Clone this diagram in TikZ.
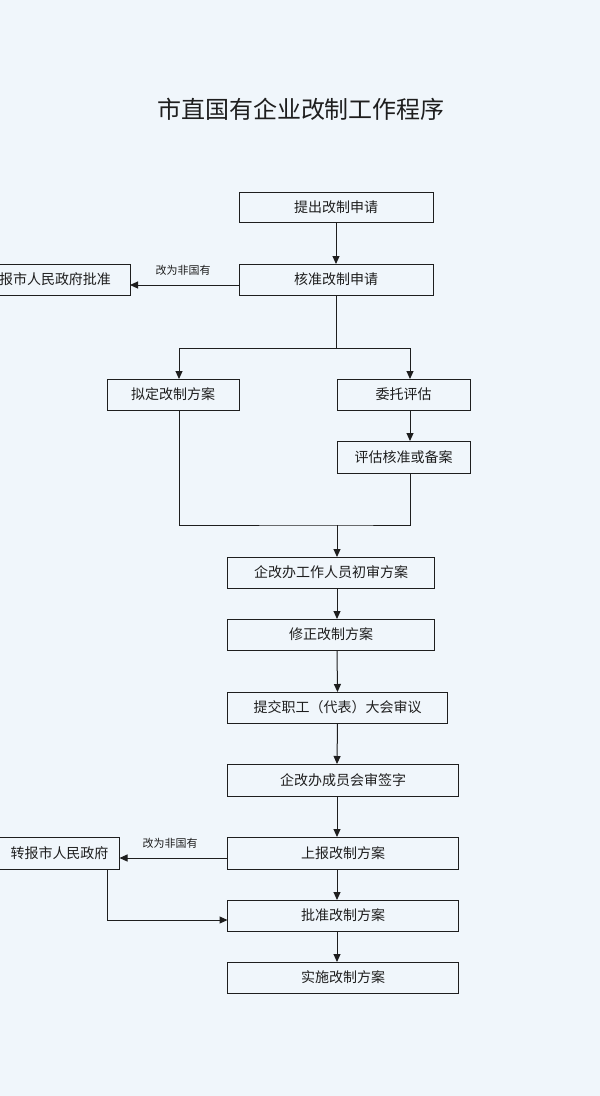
\documentclass[tikz,border=0pt]{standalone}
\usepackage{fontspec}
\newfontfamily\cjk{Noto Sans CJK SC}
\usetikzlibrary{arrows.meta,calc}
\definecolor{paper}{RGB}{240,246,251}
\definecolor{ink}{RGB}{30,30,30}
\tikzset{
  box/.style={draw=ink, line width=1pt, rectangle, inner sep=0pt, outer sep=0pt,
    font=\cjk\fontsize{14}{16}\selectfont, text=ink},
  lbl/.style={font=\cjk\fontsize{11}{13}\selectfont, text=ink, inner sep=0pt},
  conn/.style={draw=ink, line width=1pt},
  arr/.style={conn, -{Triangle[length=8pt,width=7pt]}}
}
\begin{document}
\begin{tikzpicture}[x=1pt,y=-1pt]
\fill[paper] (0,0) rectangle (600,1096);
\useasboundingbox (0,0) rectangle (600,1096);
\begin{scope}
\clip (0,0) rectangle (600,1096);
\node[font=\cjk\fontsize{24}{28}\selectfont, text=ink, inner sep=0pt] (title) at (301,109) {市直国有企业改制工作程序};

\node[box, minimum width=194pt, minimum height=30pt] (b1) at (336,207) {提出改制申请};
\node[box, minimum width=194pt, minimum height=31pt] (b2) at (336,279.5) {核准改制申请};
\node[box, minimum width=160pt, minimum height=31pt] (bl) at (50,279.5) {\hspace*{10pt}报市人民政府批准};
\node[lbl] (l1) at (183,270) {改为非国有};

\node[box, minimum width=132pt, minimum height=31pt] (p1) at (173,394.5) {拟定改制方案};
\node[box, minimum width=133pt, minimum height=31pt] (p2) at (403.5,394.5) {委托评估};
\node[box, minimum width=133pt, minimum height=32pt] (p3) at (403.5,457) {评估核准或备案};

\node[box, minimum width=207pt, minimum height=31pt] (c1) at (331,572.5) {企改办工作人员初审方案};
\node[box, minimum width=207pt, minimum height=31pt] (c2) at (331,634.5) {修正改制方案};
\node[box, minimum width=220pt, minimum height=31pt] (c3) at (337.5,707.5) {提交职工（代表）大会审议};
\node[box, minimum width=231pt, minimum height=32pt] (c4) at (343,780) {企改办成员会审签字};
\node[box, minimum width=231pt, minimum height=32pt] (c5) at (343,853) {上报改制方案};
\node[box, minimum width=231pt, minimum height=31pt] (c6) at (343,915.5) {批准改制方案};
\node[box, minimum width=231pt, minimum height=31pt] (c7) at (343,977.5) {实施改制方案};
\node[box, minimum width=120pt, minimum height=32pt] (bl2) at (59.5,853) {转报市人民政府};
\node[lbl] (l2) at (170,843) {改为非国有};

\coordinate (split) at (336,348);
\coordinate (join) at (337,525);

\draw[arr] (b1.south) -- (b2.north);
\draw[arr] ($(b2.west)+(0,5.5)$) -- ($(bl.east)+(0,5.5)$);
\draw[conn] (b2.south) -- (split);
\draw[arr] (split) -| ([xshift=6pt]p1.north);
\draw[arr] (split) -| ([xshift=6.5pt]p2.north);
\draw[arr] ([xshift=6.5pt]p2.south) -- ([xshift=6.5pt]p3.north);
\draw[conn] ([xshift=6pt]p1.south) |- (join) -| ([xshift=6.5pt]p3.south);
\draw[arr] (join) -- (join |- c1.north);
\draw[arr] ([xshift=6pt]c1.south) -- ([xshift=6pt]c2.north);
\draw[arr] ([xshift=6pt]c2.south) -- (c3.north);
\draw[arr] (c3.south) -- ([xshift=-6pt]c4.north);
\draw[arr] ([xshift=-6pt]c4.south) -- ([xshift=-6pt]c5.north);
\draw[arr] ($(c5.west)+(0,5)$) -- ($(bl2.east)+(0,5)$);
\draw[arr] ([xshift=-6pt]c5.south) -- ([xshift=-6pt]c6.north);
\draw[arr] ([xshift=-6pt]c6.south) -- ([xshift=-6pt]c7.north);
\draw[arr] ($(bl2.south east)+(-12,0)$) |- ($(c6.west)+(0,4.5)$);
\end{scope}
\end{tikzpicture}
\end{document}
